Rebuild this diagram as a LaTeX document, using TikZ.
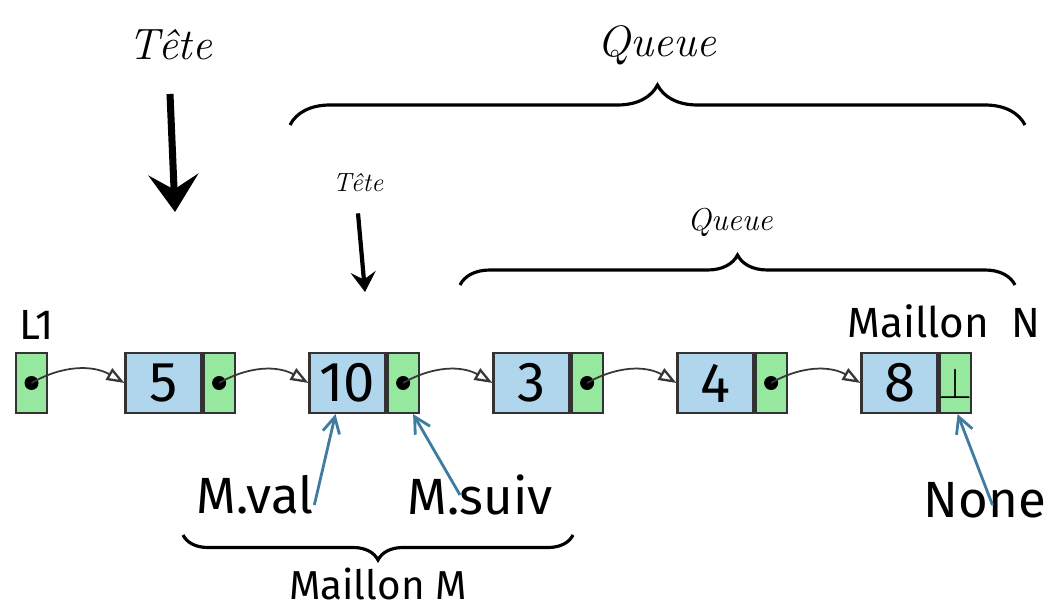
\documentclass[tikz,border=0pt]{standalone}
\usepackage{amsmath, amssymb}
\usepackage{fontspec}
\usepackage{tikz}
\usetikzlibrary{positioning, arrows.meta, decorations.pathreplacing}
\definecolor{cellblue}{RGB}{176, 214, 238}
\definecolor{cellgreen}{RGB}{150, 232, 158}
\definecolor{sketchblue}{RGB}{62, 124, 160}
\definecolor{inkgray}{RGB}{55, 55, 55}
\newfontfamily\handfont{Fira Sans}

\begin{document}
\begin{tikzpicture}[
  valbox/.style={rectangle, draw=black!80, line width=1.2pt, fill=cellblue, minimum width=1.52cm, minimum height=1.2cm, inner sep=0pt, font=\handfont\fontsize{32}{32}\selectfont},
  ptrbox/.style={rectangle, draw=black!80, line width=1.2pt, fill=cellgreen, minimum width=0.62cm, minimum height=1.2cm, inner sep=0pt},
  link/.style={draw=inkgray, line width=1pt, -{Triangle[open, line width=1.3pt, length=0.36cm, width=0.26cm]}},
  pointer/.style={sketchblue, line width=1.6pt, -{Straight Barb[length=0.32cm, width=0.34cm]}},
  curly/.style={decorate, decoration={brace, amplitude=#1}, line width=1.8pt},
  handtext/.style={font=\handfont\fontsize{#1}{#1}\selectfont},
  calli/.style={font=\itshape\fontsize{#1}{#1}\selectfont},
  bigarrow/.style={line width=#1, -{Stealth[inset=0.3cm, length=0.75cm, width=1cm]}},
]
\useasboundingbox (0,0) rectangle (20.96,-12.16);

% the list cells
\node[ptrbox] (l1) at (0.63,-7.66) {};
\foreach \val [count=\i] in {5,10,3,4,8} {
  \node[valbox] (v\i) at ({3.27+3.68*(\i-1)},-7.66) {\val};
  \node[ptrbox, right=0pt of v\i] (p\i) {};
}
\fill (l1) circle (0.14);
\foreach \i in {1,...,4} \fill (p\i) circle (0.14);
\node[font=\fontsize{26}{26}\selectfont] at (p5) {$\bot$};

% links between cells
\draw[link] (l1.center) to[bend left=30] (v1.west);
\foreach \i [evaluate=\i as \j using int(\i+1)] in {1,...,4}
  \draw[link] (p\i.center) to[bend left=30] (v\j.west);

\node[handtext=24, anchor=base] (lname) at (0.74,-6.8) {L1};
\node[handtext=24, anchor=base] (mailn) at (18.88,-6.76) {Maillon\ \ N};

% head and tail of the whole list
\node[calli=25] (bigtete) at (3.4,-0.9) {Tête};
\coordinate (bighead) at (3.5,-4.24);
\draw[bigarrow=4pt] ([yshift=-0.55cm]bigtete.south) -- (bighead);
\node[calli=25] (bigqueue) at (13.14,-0.9) {Queue};
\coordinate (bq1) at (5.8,-2.5);
\coordinate (bq2) at (20.5,-2.5);
\draw[curly=0.8cm] (bq1) -- (bq2);

% head and tail of the sub-list
\node[calli=15] (smalltete) at (7.16,-3.66) {Tête};
\coordinate (smallhead) at (7.3,-5.84);
\draw[line width=2.4pt, -{Stealth[inset=0.15cm, length=0.4cm, width=0.5cm]}] ([yshift=-0.3cm]smalltete.south) -- (smallhead);
\node[calli=18] (smallqueue) at (14.6,-4.44) {Queue};
\coordinate (sq1) at (9.2,-5.7);
\coordinate (sq2) at (20.3,-5.7);
\draw[curly=0.6cm] (sq1) -- (sq2);

% fields of maillon M
\node[handtext=29] (mval) at (5.1,-9.9) {M.val};
\node[handtext=29] (msuiv) at (9.6,-9.9) {M.suiv};
\node[handtext=29] (none) at (19.7,-10.0) {None};
\draw[pointer] ([xshift=-0.1cm, yshift=-0.2cm]mval.east) -- ([xshift=-0.24cm]v2.south);
\draw[pointer] ([xshift=-0.4cm]msuiv.center) -- ([xshift=0.2cm]p2.south);
\draw[pointer] ([xshift=0.15cm, yshift=-0.1cm]none.center) -- ([xshift=0.05cm]p5.south);

\coordinate (mm1) at (11.46,-10.7);
\coordinate (mm2) at (3.66,-10.7);
\draw[curly=0.5cm] (mm1) -- (mm2);
\node[handtext=23, anchor=base] (mailm) at (7.56,-11.98) {Maillon M};
\end{tikzpicture}
\end{document}
